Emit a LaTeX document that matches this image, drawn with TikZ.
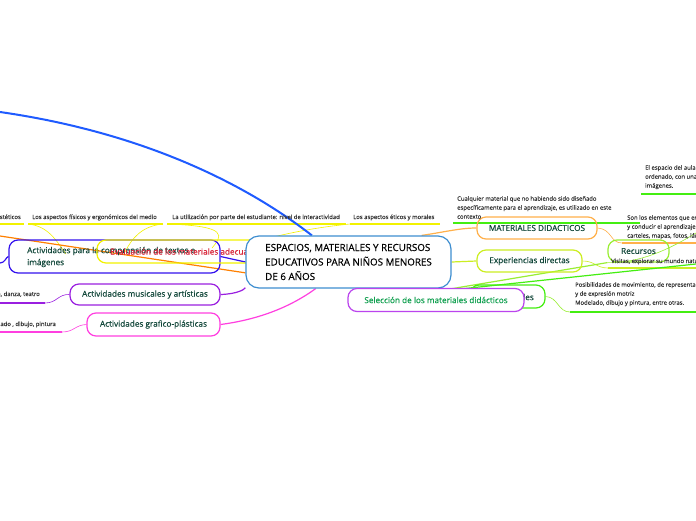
\documentclass[tikz,border=0pt]{standalone}
\usepackage{fontspec}
\setmainfont{Open Sans}
\newfontfamily\pillfont{Open Sans}[FakeBold=0.5]
\newfontfamily\smallfont{Open Sans}[FakeBold=0.25]
\pgfdeclarelayer{background}
\pgfsetlayers{background,main}
\definecolor{cblue}{HTML}{1F5BFF}
\definecolor{ccentral}{HTML}{3E8ED0}
\definecolor{cyel}{HTML}{F2F200}
\definecolor{cindigo}{HTML}{3311EE}
\definecolor{cpurple}{HTML}{9A1FE0}
\definecolor{cmagenta}{HTML}{FF3FE0}
\definecolor{corange}{HTML}{FFB04A}
\definecolor{clime}{HTML}{CCEE22}
\definecolor{cgreen}{HTML}{99EE33}
\definecolor{cbright}{HTML}{44EE11}
\definecolor{cviolet}{HTML}{BB44EE}
\definecolor{ctext}{HTML}{12473A}
\definecolor{csel}{HTML}{11A050}
\definecolor{cred}{HTML}{D8283C}
\definecolor{csmall}{HTML}{333333}
\tikzset{
  pill/.style={draw, rounded corners=9pt, line width=1.2pt, inner sep=0pt},
  pilltext/.style={font=\pillfont\fontsize{8.2}{12}\selectfont, text=ctext, inner sep=0pt},
  small/.style={font=\smallfont\fontsize{5.9}{9}\selectfont, text=csmall, inner sep=0pt, align=left},
  uline/.style={line width=1.6pt},
  thinc/.style={line width=0.6pt},
  conn/.style={line width=1.2pt}
}
\begin{document}
\begin{tikzpicture}[x=1pt,y=-1pt]
\clip (0,0) rectangle (696,520);

% ---------- left nodes ----------
\node[pill, draw=cindigo, minimum width=211, minimum height=33] (compr) at (114.5,256.5) {};
\node[pilltext, anchor=west, align=left] (comprt) at (27,257) {Actividades para la comprensión de textos e\\imágenes};
\node[pill, draw=cyel, minimum width=166, minimum height=23] (eval) at (180,251.5) {};
\node[pilltext, text=cred, anchor=west] (evalt) at (110,251.5) {Evaluación de los materiales adecuados};
\node[pill, draw=cpurple, minimum width=150, minimum height=21, pilltext] (music) at (145,294.5) {Actividades musicales y artísticas};
\node[pill, draw=cmagenta, minimum width=133, minimum height=23, pilltext] (graf) at (153.5,324.5) {Actividades grafico-plásticas};

% ---------- central ----------
\node[pill, draw=ccentral, fill=white, rounded corners=13pt, minimum width=205, minimum height=52,
      font=\pillfont\fontsize{9.8}{14.5}\selectfont, align=left] (central) at (348.5,262)
      {ESPACIOS, MATERIALES Y RECURSOS\\EDUCATIVOS PARA NIÑOS MENORES\\DE 6 AÑOS};

% ---------- right nodes ----------
\node[pill, draw=corange, minimum width=120, minimum height=22, pilltext] (mat) at (537,228) {MATERIALES DIDACTICOS};
\node[pill, draw=clime, minimum width=105, minimum height=22, pilltext] (exp) at (529.5,261) {Experiencias directas};
\node[pill, draw=cgreen, minimum width=61, minimum height=22, pilltext] (rec) at (638.5,251) {Recursos};
\node[pill, draw=cbright, minimum width=75, minimum height=23] (gbox) at (507.5,296.5) {};
\node[pilltext, anchor=east] (gboxt) at (534,297) {Materiales};
\node[pill, draw=cviolet, fill=white, minimum width=176, minimum height=23, pilltext, text=csel] (sel) at (436,300) {Selección de los materiales didácticos};

% ---------- small texts ----------
\node[small, anchor=base east] (t1) at (21,219) {Los aspectos estéticos};
\node[small, anchor=base west] (t2) at (32,219) {Los aspectos físicos y ergonómicos del medio};
\node[small, anchor=base west] (t3) at (172,219) {La utilización por parte del estudiante: nivel de interactividad};
\node[small, anchor=base west] (t4) at (353,219) {Los aspectos éticos y morales};
\node[small, anchor=base east] (t5) at (40,296) {Música, danza, teatro};
\node[small, anchor=base east] (t6) at (56,326) {Modelado , dibujo, pintura};
\node[small, anchor=north west] (t7) at (457,196) {Cualquier material que no habiendo sido diseñado\\específicamente para el aprendizaje, es utilizado en este\\contexto};
\node[small, anchor=north west] (t8) at (627,215) {Son los elementos que emplea el docente\\y conducir el aprendizaje de los alumnos\\carteles, mapas, fotos, láminas};
\node[small, anchor=north west] (t9) at (645,165) {El espacio del aula debe estar\\ordenado, con una decoración de\\imágenes.};
\node[small, anchor=base west] (t10) at (611,263) {Visitas, explorar su mundo natural};
\node[small, anchor=north west] (t11) at (575,282) {Posibilidades de movimiento, de representación\\y de expresión motriz\\Modelado, dibujo y pintura, entre otras.};

% ---------- coordinates ----------
\coordinate (u1a) at (0,224);   \coordinate (u1b) at (24,224);
\coordinate (u2a) at (28,224);  \coordinate (u2b) at (163,224);
\coordinate (u3a) at (167,224); \coordinate (u3b) at (346,224);
\coordinate (u4a) at (350,224); \coordinate (u4b) at (440,224);
\coordinate (u5a) at (0,303);   \coordinate (u5b) at (45,303);
\coordinate (u6a) at (0,332);   \coordinate (u6b) at (62,332);
\coordinate (u7a) at (453,223); \coordinate (u7b) at (640,223);
\coordinate (u8a) at (622,243); \coordinate (u8b) at (696,243);
\coordinate (u9a) at (641,194); \coordinate (u9b) at (696,194);
\coordinate (u10a) at (608,268); \coordinate (u10b) at (696,268);
\coordinate (u11a) at (570,312); \coordinate (u11b) at (696,312);
\coordinate (bluefar) at (0,112);
\coordinate (orfar) at (0,236);
\coordinate (compfar) at (0,263);
\coordinate (hub) at (432,292);
\coordinate (bfar) at (696,264);
\coordinate (rfar) at (696,233);

\begin{pgfonlayer}{background}
\fill[white] (0,0) rectangle (696,520);
% underlines
\draw[uline, cyel] (u1a) -- (u1b);
\draw[uline, cyel] (u2a) -- (u2b);
\draw[uline, cyel] (u3a) -- (u3b);
\draw[uline, cyel] (u4a) -- (u4b);
\draw[uline, cpurple] (u5a) -- (u5b);
\draw[uline, cmagenta] (u6a) -- (u6b);
\draw[uline, cbright] (u7a) -- (u7b);
\draw[uline, corange] (u8a) -- (u8b);
\draw[uline, cbright] (u9a) -- (u9b);
\draw[uline, clime] (u10a) -- (u10b);
\draw[uline, cbright] (u11a) -- (u11b);
% thin child connectors
\draw[thinc, cyel] (u2a) .. controls (48,226) and (56,240) .. (66,254);
\draw[thinc, cyel] (u2b) .. controls (142,226) and (132,238) .. (125,252);
\draw[thinc, cyel] (u3a) .. controls (230,226) and (222,236) .. (212,248);
\draw[thinc, cyel] (u4a) .. controls (320,227) and (290,232) .. (250,243);
\draw[thinc, cpurple] (music.west) .. controls (58,294) and (57,303) .. (u5b);
\draw[thinc, cmagenta] (graf.west) .. controls (75,325) and (74,332) .. (u6b);
\draw[thinc, corange] (mat.east) .. controls (612,229) and (610,243) .. (u8a);
\draw[thinc, clime] (exp.east) .. controls (595,261) and (596,268) .. (u10a);
\draw[thinc, cgreen] (gbox.east) .. controls (558,297) and (558,312) .. (u11a);
\draw[thinc, cgreen] (rec.south west) .. controls (640,263) and (668,250) .. (rfar);
% main connectors
\draw[cblue, line width=2pt] (central.144.5) .. controls (260,195) and (160,135) .. (bluefar);
\draw[conn, orange] (orfar) -- (central.186);
\draw[conn, cindigo] (compfar) .. controls (5,263) and (6,257) .. (compr.west);
\draw[conn, cindigo] (compr.east) -- (central.west);
\draw[conn, cpurple] (music.east) .. controls (236,294) and (244,290) .. (central.194);
\draw[conn, cmagenta] (graf.east) .. controls (270,318) and (300,300) .. (central.219);
\draw[conn, corange] (central.20) .. controls (445,232) and (460,228) .. (mat.west);
\draw[conn, clime] (central.east) -- (exp.west);
\draw[conn, cgreen] (hub) -- (rec.south west);
\draw[conn, cbright] (hub) -- (bfar);
\end{pgfonlayer}
\end{tikzpicture}
\end{document}
